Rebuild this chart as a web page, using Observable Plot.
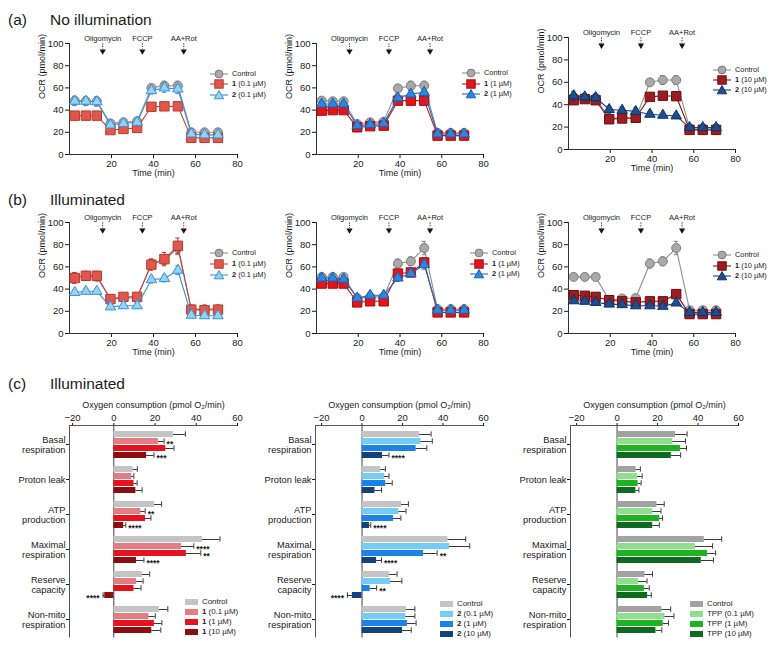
<!DOCTYPE html>
<html><head><meta charset="utf-8">
<script src="https://cdn.jsdelivr.net/npm/d3@7"></script>
<script src="https://cdn.jsdelivr.net/npm/@observablehq/plot@0.6"></script>
<style>
html,body{margin:0;padding:0;background:#fff;}
#root{position:relative;width:771px;height:648px;overflow:hidden;font-family:"Liberation Sans",Arial,Helvetica,sans-serif;color:#1a1a1a;}
.ttl{position:absolute;font-size:15.5px;line-height:16px;white-space:nowrap;}
.lgt{position:absolute;font-size:7.4px;line-height:12px;white-space:nowrap;}
.lgb{position:absolute;font-size:7.9px;line-height:12px;white-space:nowrap;}
.lgs{position:absolute;overflow:visible;}
</style></head><body><div id="root"></div>
<script>
// ---------- shared axes / annotations ----------
const times = [2.5, 7.8, 13, 19.5, 25.7, 32.2, 39, 45.2, 51.6, 58, 64.3, 70.7];
const injectionNames = ["Oligomycin", "FCCP", "AA+Rot"];
const injectionTimes = [15.8, 34.7, 54.4];
const timeTicks = [20, 40, 60, 80];
const ocrTicks = [0, 20, 40, 60, 80, 100];

// ---------- (a) No illumination ----------
const a1Control = [48.5, 48, 48, 28, 29, 30, 60, 62, 62, 20, 20, 20];
const a1ControlErr = [4, 4, 4, 2, 2, 2, 3, 4, 4, 2, 2, 2];
const a1Cmp1 = [35, 35, 35, 22, 23, 24, 43, 43.4, 43.4, 15, 15, 15];
const a1Cmp1Err = [2, 2, 2, 1.5, 1.5, 1.5, 2, 2, 2, 1, 1, 1];
const a1Cmp2 = [48, 48, 47.5, 26.6, 28, 29, 57.5, 60, 59, 18.5, 17.7, 17.7];
const a1Cmp2Err = [4, 3, 4, 2, 2, 2, 3, 4, 4, 2, 2, 2];

const a2Control = [48.5, 48, 48, 27.5, 29, 29.6, 59.6, 62, 62, 19.5, 19.5, 19.5];
const a2ControlErr = [3, 3, 3, 2, 2, 2, 3, 4, 4, 1.5, 1.5, 1.5];
const a2Cmp1 = [39.5, 40, 40, 24.5, 25.5, 26, 48.5, 48.5, 48.5, 17, 17, 17];
const a2Cmp1Err = [2, 2, 2, 1.5, 1.5, 1.5, 2, 2, 2, 1, 1, 1];
const a2Cmp2 = [45.5, 45.5, 45.5, 26, 27, 28, 51, 54.5, 56, 18.5, 18.5, 18.5];
const a2Cmp2Err = [2, 2, 2, 1.5, 1.5, 1.5, 3, 3, 3, 1, 1, 1];

const a3Control = [47, 46, 46, 28, 28, 28, 60, 62, 62, 19, 19, 19];
const a3ControlErr = [3, 3, 3, 2, 2, 2, 3, 4, 4, 1.5, 1.5, 1.5];
const a3Cmp1 = [44, 45, 44, 27, 27.7, 28.3, 47, 48, 47.6, 17.5, 17.5, 17.5];
const a3Cmp1Err = [2, 2, 2, 2, 2, 2, 3, 3, 3, 1, 1, 1];
const a3Cmp2 = [48, 47, 46.4, 35.7, 35, 34, 31.5, 30.6, 30, 19.6, 19.6, 19.6];
const a3Cmp2Err = [4, 3, 3, 3, 3, 3, 2, 1.5, 1.5, 1, 1, 1];

// ---------- (b) Illuminated ----------
const b1Control = [51, 52, 51, 31, 32, 32, 63, 66, 77, 22, 22, 22];
const b1ControlErr = [3, 3, 3, 2, 2, 2, 4, 4, 6, 2, 2, 2];
const b1Cmp1 = [50, 52, 52, 31, 33, 33, 62, 67, 79, 21.5, 21, 21.5];
const b1Cmp1Err = [5, 4, 4, 2, 2, 2, 5, 6, 7, 2, 2, 2];
const b1Cmp2 = [37, 38, 38, 24, 25, 25, 48.5, 49.5, 57, 16.5, 16, 16];
const b1Cmp2Err = [2, 2, 2, 2, 2, 2, 3, 3, 4, 1, 1, 1];

const b2Control = [51, 51, 51, 32, 33, 33, 63, 65, 77, 22, 22, 22];
const b2ControlErr = [3, 3, 3, 2, 2, 2, 4, 4, 6, 2, 2, 2];
const b2Cmp1 = [45, 45, 45, 28, 29, 29, 54, 55, 64, 19, 19, 19];
const b2Cmp1Err = [2, 2, 2, 2, 2, 2, 3, 3, 4, 1, 1, 1];
const b2Cmp2 = [50, 50, 49, 32, 34.5, 34.5, 50, 54, 62, 21, 21, 21];
const b2Cmp2Err = [3, 3, 3, 2, 2, 2, 3, 3, 4, 1, 1, 1];

const b3Control = [51, 51, 51, 30, 31.5, 32, 63, 65, 77, 21, 21, 21];
const b3ControlErr = [3, 3, 3, 2, 2, 2, 4, 4, 6, 1.5, 1.5, 1.5];
const b3Cmp1 = [34.5, 34, 33, 30, 29, 28, 29, 29, 35.5, 17.5, 17.5, 17.5];
const b3Cmp1Err = [2, 2, 2, 2, 2, 2, 2, 2, 2, 1, 1, 1];
const b3Cmp2 = [29.5, 29, 28, 26.5, 26, 25, 25, 24.5, 27.5, 19, 19, 19];
const b3Cmp2Err = [2, 2, 2, 1.5, 1.5, 1.5, 1.5, 1.5, 1.5, 1, 1, 1];

// ---------- (c) Illuminated, bar charts ----------
const categories = ["Basal respiration", "Proton leak", "ATP production", "Maximal respiration", "Reserve capacity", "Non-mito respiration"];
const categoryLabels = ["Basal\nrespiration", "Proton leak", "ATP\nproduction", "Maximal\nrespiration", "Reserve\ncapacity", "Non-mito\nrespiration"];
const oxygenTicks = [-20, 0, 20, 40, 60];

const c1Series = ["Control", "1 (0.1 µM)", "1 (1 µM)", "1 (10 µM)"];
const c1Control = [29, 9.3, 19.8, 43, 13.8, 22.1];
const c1ControlErr = [5.7, 2.1, 3.4, 8.5, 3.6, 4.1];
const c1Low = [21.6, 8.7, 13.1, 32.8, 11.1, 17];
const c1LowErr = [2.8, 1, 2.1, 6, 3.1, 3.1];
const c1Mid = [25.2, 9.8, 15.4, 35.2, 9.8, 19.7];
const c1MidErr = [4, 1.5, 2.6, 7, 3.4, 3.6];
const c1High = [15.9, 10.7, 4.8, 11, -4.4, 18.4];
const c1HighErr = [3.6, 3, 1, 3.6, 0.8, 4.4];
const c1Stars = [["", "", "", "", "", ""], ["**", "", "**", "****", "", ""], ["", "", "", "**", "", ""], ["***", "", "****", "****", "****", ""]];

const c2Series = ["Control", "2 (0.1 µM)", "2 (1 µM)", "2 (10 µM)"];
const c2Control = [28.5, 9.3, 19.5, 42.4, 13.6, 21.9];
const c2ControlErr = [5.6, 2.2, 3.4, 8.8, 3.7, 4.2];
const c2Low = [29.1, 11.2, 18.2, 43.2, 14.1, 21.6];
const c2LowErr = [5.6, 2.1, 3.5, 10, 5.6, 4.5];
const c2Mid = [26.7, 11.7, 15.5, 30.4, 4, 22.4];
const c2MidErr = [5.3, 3.2, 3.7, 6.7, 3.2, 4.3];
const c2High = [10.1, 6.4, 3.7, 7.2, -4.8, 20];
const c2HighErr = [3.2, 3.2, 0.6, 2.4, 2.4, 4.3];
const c2Stars = [["", "", "", "", "", ""], ["", "", "", "", "", ""], ["", "", "", "**", "**", ""], ["****", "", "****", "****", "****", ""]];

const c3Series = ["Control", "TPP (0.1 µM)", "TPP (1 µM)", "TPP (10 µM)"];
const c3Control = [28.9, 9.4, 19.7, 43.1, 13.8, 22.1];
const c3ControlErr = [5.7, 2.1, 3.6, 8.6, 3.7, 4.4];
const c3Low = [27.6, 10.1, 17.6, 38.7, 10.6, 23.7];
const c3LowErr = [6.2, 2.3, 4.1, 8.5, 4.2, 4.4];
const c3Mid = [31.4, 10.4, 21.1, 44.7, 13.5, 22.8];
const c3MidErr = [2.9, 1.5, 1.3, 4, 2.4, 2.6];
const c3High = [26.8, 9.3, 17.6, 41.6, 15.1, 19.2];
const c3HighErr = [4.6, 1.5, 3.3, 6, 1.8, 2.9];
const c3Stars = [["", "", "", "", "", ""], ["", "", "", "", "", ""], ["", "", "", "", "", ""], ["", "", "", "", "", ""]];

// ---------- styles ----------
const styles = {
  control: {symbol: "circle", r: 4.5, fill: "#a9a9a9", stroke: "#7d7d7d", line: "#8e8e8e"},
  one01:   {symbol: "square", r: 5.3, fill: "#e2574c", stroke: "#b8392f", line: "#c4443a"},
  two01:   {symbol: "triangle", r: 3.9, fill: "#93d4f5", stroke: "#3a8fd8", line: "#3a8fd8"},
  one1:    {symbol: "square", r: 5.3, fill: "#e3141c", stroke: "#a80d12", line: "#c0151b"},
  two1:    {symbol: "triangle", r: 3.9, fill: "#2c87e0", stroke: "#1c5fae", line: "#2468b8"},
  one10:   {symbol: "square", r: 5.3, fill: "#9e1b1f", stroke: "#6b0f12", line: "#7e1418"},
  two10:   {symbol: "triangle", r: 3.9, fill: "#1d4f90", stroke: "#0f3264", line: "#1a4278"}
};
const c1Colors = ["#c4c4c4", "#e47c82", "#e8121c", "#8c0c10"];
const c2Colors = ["#c4c4c4", "#74cdf6", "#1a82e8", "#13427f"];
const c3Colors = ["#a2a2a2", "#8ee08c", "#1db41f", "#0e6a20"];

const W = 771, H = 648;
const FONT = '"Liberation Sans", Arial, Helvetica, sans-serif';
const root = document.getElementById("root");

function place(svg) {
  svg.style.position = "absolute";
  svg.style.left = "0px";
  svg.style.top = "0px";
  svg.style.overflow = "visible";
  svg.style.fontFamily = FONT;
  svg.style.color = "#1a1a1a";
  svg.style.background = "none";
  svg.style.maxWidth = "none";
  root.appendChild(svg);
}

function addText(cls, html, left, top) {
  const d = document.createElement("div");
  d.className = cls;
  d.innerHTML = html;
  d.style.left = left + "px";
  d.style.top = top + "px";
  root.appendChild(d);
}

function symbolSvg(st) {
  if (st.symbol === "circle") return `<circle cx="10" cy="6" r="3.9" fill="${st.fill}" stroke="${st.stroke}"/>`;
  if (st.symbol === "square") return `<rect x="5.8" y="1.8" width="8.4" height="8.4" fill="${st.fill}" stroke="${st.stroke}"/>`;
  return `<polygon points="10,1.6 14.7,9.8 5.3,9.8" fill="${st.fill}" stroke="${st.stroke}"/>`;
}

function ocrLegend(items, mx, tx, ys) {
  items.forEach((it, i) => {
    const st = styles[it.style];
    const s = document.createElementNS("http://www.w3.org/2000/svg", "svg");
    s.setAttribute("class", "lgs");
    s.setAttribute("width", 20); s.setAttribute("height", 12);
    s.style.left = (mx - 10) + "px"; s.style.top = (ys[i] - 6) + "px";
    s.innerHTML = `<line x1="1" x2="19" y1="6" y2="6" stroke="${st.line}" stroke-width="1.1"/>` + symbolSvg(st);
    root.appendChild(s);
    addText("lgt", it.label, tx, ys[i] - 6);
  });
}

function barLegend(labels, colors, sx, tx, ys) {
  labels.forEach((lab, i) => {
    const s = document.createElementNS("http://www.w3.org/2000/svg", "svg");
    s.setAttribute("class", "lgs");
    s.setAttribute("width", 13); s.setAttribute("height", 6);
    s.style.left = sx + "px"; s.style.top = (ys[i] - 3) + "px";
    s.innerHTML = `<rect x="0" y="0" width="13" height="6" fill="${colors[i]}"/>`;
    root.appendChild(s);
    const m = lab.match(/^([12]) (.*)$/);
    addText("lgb", m ? `<b>${m[1]}</b> ${m[2]}` : lab, tx, ys[i] - 6);
  });
}

function ocrPanel(p) {
  const marks = [
    Plot.axisX({ticks: timeTicks, tickSize: 4, tickPadding: 1.5, fontSize: 9.5, label: null}),
    Plot.axisY({ticks: ocrTicks, tickSize: 4, tickPadding: 2, fontSize: 9.5, label: null}),
    Plot.text(["Time (min)"], {frameAnchor: "bottom", dy: 21, text: d => d, fontSize: 9}),
    Plot.text(["OCR (pmol/min)"], {frameAnchor: "left", dx: -27, rotate: -90, text: d => d, fontSize: 9}),
    Plot.ruleX([0], {stroke: "#333"}),
    Plot.ruleY([0], {stroke: "#333"}),
    Plot.text(injectionNames, {x: (d, i) => injectionTimes[i], y: 100, dy: -2.5, lineAnchor: "bottom", text: d => d, fontSize: 7.5}),
    Plot.ruleX(injectionTimes, {x: d => d, y1: 99.6, y2: 94.8, stroke: "#222", strokeDasharray: "1.2,1.2"}),
    Plot.dot(injectionTimes, {x: d => d, y: 93, symbol: "triangle", r: 2.3, rotate: 180, fill: "#111", stroke: "none"})
  ];
  for (const s of p.series) {
    const st = styles[s.style];
    const rows = s.values.map((v, i) => ({t: times[i], v, e: s.err[i]}));
    marks.push(
      Plot.line(rows, {x: "t", y: "v", stroke: st.line, strokeWidth: 1.1}),
      Plot.ruleX(rows, {x: "t", y1: d => d.v - d.e, y2: d => d.v + d.e, stroke: st.stroke, strokeWidth: 1}),
      Plot.ruleY(rows, {y: d => d.v + d.e, x1: d => d.t - 1, x2: d => d.t + 1, stroke: st.stroke}),
      Plot.ruleY(rows, {y: d => d.v - d.e, x1: d => d.t - 1, x2: d => d.t + 1, stroke: st.stroke}),
      Plot.dot(rows, {x: "t", y: "v", symbol: st.symbol, r: st.r, fill: st.fill, stroke: st.stroke, strokeWidth: 1})
    );
  }
  const svg = Plot.plot({
    width: W, height: H,
    marginLeft: p.x0, marginRight: W - p.x1, marginTop: p.yTop, marginBottom: H - p.yBottom,
    x: {domain: [0, 80]}, y: {domain: [0, 100]},
    marks
  });
  place(svg);
}

function barPanel(p) {
  const top = 425, bottom = 637.5;
  const rows = [];
  categories.forEach((cat, i) => p.series.forEach((s, j) => {
    rows.push({cat, series: s, v: p.values[j][i], e: p.errs[j][i], star: p.stars[j][i]});
  }));
  const end = d => d.v + (d.v < 0 ? -d.e : d.e);
  const common = {width: W, height: H, marginLeft: p.x0, marginRight: W - p.x1, marginTop: top, marginBottom: H - bottom};
  const axisSvg = Plot.plot({
    ...common,
    x: {domain: p.domain},
    y: {domain: [0, 1], axis: null},
    marks: [
      Plot.axisX({anchor: "top", ticks: oxygenTicks, tickSize: 3, tickPadding: 2, fontSize: 9.5, label: null}),
      Plot.text(["Oxygen consumption (pmol O₂/min)"], {frameAnchor: "top", dy: -24, text: d => d, fontSize: 9}),
      Plot.ruleY([1], {stroke: "#555"}),
      Plot.ruleX([p.domain[0]], {stroke: "#555"}),
      Plot.ruleX([0], {stroke: "#444"})
    ]
  });
  place(axisSvg);
  const barSvg = Plot.plot({
    ...common,
    x: {domain: p.domain, axis: null},
    fy: {domain: categories, paddingInner: 0.21, paddingOuter: 0.1},
    y: {domain: p.series, paddingInner: 0.2, paddingOuter: 0.05, axis: null},
    color: {domain: p.series, range: p.colors},
    marks: [
      Plot.axisFy({anchor: "left", tickSize: 3, tickPadding: 1, fontSize: 9.3, lineHeight: 1.1, label: null, tickFormat: c => categoryLabels[categories.indexOf(c)]}),
      Plot.barX(rows, {x: "v", y: "series", fy: "cat", fill: "series"}),
      Plot.ruleY(rows.filter(d => d.e > 0), {y: "series", fy: "cat", x1: "v", x2: end, stroke: "#222", strokeWidth: 0.9}),
      Plot.tickX(rows.filter(d => d.e > 0), {x: end, y: "series", fy: "cat", stroke: "#222", strokeWidth: 0.9, insetTop: 0.3, insetBottom: 0.3}),
      Plot.text(rows.filter(d => d.star && d.v >= 0), {x: end, y: "series", fy: "cat", text: "star", dx: 2.5, dy: 2.3, textAnchor: "start", fontSize: 8.5, fontWeight: "bold"}),
      Plot.text(rows.filter(d => d.star && d.v < 0), {x: end, y: "series", fy: "cat", text: "star", dx: -3.5, dy: 2.3, textAnchor: "end", fontSize: 8.5, fontWeight: "bold"})
    ]
  });
  place(barSvg);
}

// ---------- titles ----------
addText("ttl", "(a)", 8, 12);
addText("ttl", "No illumination", 50, 12);
addText("ttl", "(b)", 8, 192);
addText("ttl", "Illuminated", 50, 192);
addText("ttl", "(c)", 8, 376);
addText("ttl", "Illuminated", 50, 376);

// ---------- row (a) ----------
ocrPanel({x0: 69, x1: 237, yTop: 43, yBottom: 154, series: [
  {style: "control", values: a1Control, err: a1ControlErr},
  {style: "one01", values: a1Cmp1, err: a1Cmp1Err},
  {style: "two01", values: a1Cmp2, err: a1Cmp2Err}]});
ocrPanel({x0: 316, x1: 483, yTop: 43, yBottom: 154, series: [
  {style: "control", values: a2Control, err: a2ControlErr},
  {style: "one1", values: a2Cmp1, err: a2Cmp1Err},
  {style: "two1", values: a2Cmp2, err: a2Cmp2Err}]});
ocrPanel({x0: 568, x1: 735, yTop: 37, yBottom: 149, series: [
  {style: "control", values: a3Control, err: a3ControlErr},
  {style: "one10", values: a3Cmp1, err: a3Cmp1Err},
  {style: "two10", values: a3Cmp2, err: a3Cmp2Err}]});

// ---------- row (b) ----------
ocrPanel({x0: 69, x1: 237, yTop: 222, yBottom: 333, series: [
  {style: "control", values: b1Control, err: b1ControlErr},
  {style: "one01", values: b1Cmp1, err: b1Cmp1Err},
  {style: "two01", values: b1Cmp2, err: b1Cmp2Err}]});
ocrPanel({x0: 316, x1: 483, yTop: 222, yBottom: 333, series: [
  {style: "control", values: b2Control, err: b2ControlErr},
  {style: "one1", values: b2Cmp1, err: b2Cmp1Err},
  {style: "two1", values: b2Cmp2, err: b2Cmp2Err}]});
ocrPanel({x0: 568, x1: 735, yTop: 222, yBottom: 333, series: [
  {style: "control", values: b3Control, err: b3ControlErr},
  {style: "one10", values: b3Cmp1, err: b3Cmp1Err},
  {style: "two10", values: b3Cmp2, err: b3Cmp2Err}]});

// ---------- OCR legends ----------
const legLow = [{style: "control", label: "Control"}, {style: "one01", label: "<b>1</b> (0.1 µM)"}, {style: "two01", label: "<b>2</b> (0.1 µM)"}];
const legMid = [{style: "control", label: "Control"}, {style: "one1", label: "<b>1</b> (1 µM)"}, {style: "two1", label: "<b>2</b> (1 µM)"}];
const legHigh = [{style: "control", label: "Control"}, {style: "one10", label: "<b>1</b> (10 µM)"}, {style: "two10", label: "<b>2</b> (10 µM)"}];
ocrLegend(legLow, 219, 232, [73.5, 84, 94.5]);
ocrLegend(legMid, 471, 484, [73, 83.5, 94]);
ocrLegend(legHigh, 722, 735, [70, 80, 90]);
ocrLegend(legLow, 219, 232, [253, 264, 275]);
ocrLegend(legMid, 479, 492, [253, 263.5, 274]);
ocrLegend(legHigh, 722, 735, [255, 265.5, 276]);

// ---------- row (c) ----------
barPanel({x0: 69, x1: 237, domain: [-21.5, 60], series: c1Series, colors: c1Colors,
  values: [c1Control, c1Low, c1Mid, c1High], errs: [c1ControlErr, c1LowErr, c1MidErr, c1HighErr], stars: c1Stars});
barPanel({x0: 315, x1: 483, domain: [-23, 60], series: c2Series, colors: c2Colors,
  values: [c2Control, c2Low, c2Mid, c2High], errs: [c2ControlErr, c2LowErr, c2MidErr, c2HighErr], stars: c2Stars});
barPanel({x0: 570, x1: 738, domain: [-23, 60], series: c3Series, colors: c3Colors,
  values: [c3Control, c3Low, c3Mid, c3High], errs: [c3ControlErr, c3LowErr, c3MidErr, c3HighErr], stars: c3Stars});

barLegend(c1Series, c1Colors, 185, 202, [602, 612, 622, 632]);
barLegend(c2Series, c2Colors, 440, 457, [604, 614, 624, 633.5]);
barLegend(c3Series, c3Colors, 690, 707, [604, 614, 624, 633.5]);
</script></body></html>
